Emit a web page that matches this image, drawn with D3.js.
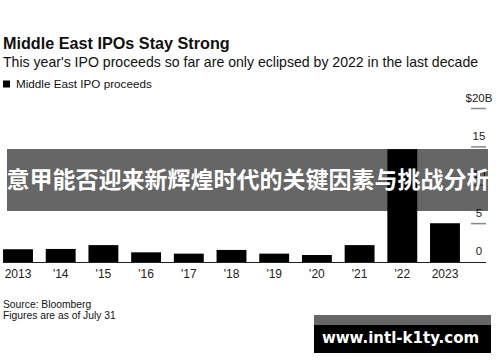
<!DOCTYPE html>
<html><head><meta charset="utf-8">
<script src="https://cdn.jsdelivr.net/npm/d3@7"></script>
<style>
html,body{margin:0;padding:0;background:#fff;}
svg{display:block;font-family:"Liberation Sans",Arial,sans-serif;}
</style></head>
<body>
<svg id="c" width="500" height="362"></svg>
<script>
const years = ["2013","'14","'15","'16","'17","'18","'19","'20","'21","'22","2023"];
const proceeds = [1.66, 1.7, 2.2, 1.26, 1.09, 1.57, 1.09, 0.91, 2.2, 14.7, 5.05];
const yTicks = [0, 5, 10, 15, 20];
const yTickLabels = ["0", "5", "10", "15", "$20B"];
const title = "Middle East IPOs Stay Strong";
const subtitle = "This year's IPO proceeds so far are only eclipsed by 2022 in the last decade";
const legendLabel = "Middle East IPO proceeds";
const notes = ["Source: Bloomberg", "Figures are as of July 31"];
const banner = "意甲能否迎来新辉煌时代的关键因素与挑战分析";
const watermark = "www.intl-k1ty.com";

const svg = d3.select("#c");
const x = d3.scaleBand().domain(years).range([-3.35, 466.35]).paddingInner(0.3).paddingOuter(0.15);
const y = d3.scaleLinear().domain([0, 20]).range([262, 108.5]);

svg.append("text").attr("x", 3).attr("y", 49).attr("font-size", 16.2).attr("font-weight", "bold").attr("fill", "#111").text(title);
svg.append("text").attr("x", 3).attr("y", 67).attr("font-size", 14.1).attr("fill", "#111").text(subtitle);
svg.append("rect").attr("x", 3).attr("y", 80.5).attr("width", 7).attr("height", 7).attr("fill", "#000");
svg.append("text").attr("x", 16).attr("y", 88).attr("font-size", 11.7).attr("fill", "#111").text(legendLabel);

// bars
svg.append("g").selectAll("rect").data(years).join("rect")
  .attr("x", d => x(d)).attr("width", x.bandwidth())
  .attr("y", (d, i) => y(proceeds[i])).attr("height", (d, i) => y(0) - y(proceeds[i]))
  .attr("fill", "#000");

// baseline
svg.append("line").attr("x1", 3).attr("x2", 486).attr("y1", y(0) + 0.5).attr("y2", y(0) + 0.5).attr("stroke", "#222").attr("stroke-width", 1);

// y axis: short tick lines with labels above
const yg = svg.append("g");
yTicks.forEach((t, i) => {
  if (t > 0) yg.append("line").attr("x1", 471).attr("x2", 486).attr("y1", y(t)).attr("y2", y(t)).attr("stroke", "#888").attr("stroke-width", 1.5);
  yg.append("text").attr("x", 479).attr("y", y(t) - 7).attr("text-anchor", "middle").attr("font-size", 11.5).attr("fill", "#222").text(yTickLabels[i]);
});

// x axis labels
const xAxis = d3.axisBottom(x).tickSize(0).tickPadding(0);
const xg = svg.append("g").attr("transform", `translate(0,${y(0)})`).call(xAxis);
xg.select(".domain").remove();
xg.selectAll("text").attr("font-size", 12).attr("font-family", "Liberation Sans, Arial, sans-serif").attr("fill", "#222").attr("dy", 0).attr("y", 16);

svg.append("text").attr("x", 3).attr("y", 308).attr("font-size", 10.3).attr("fill", "#111").text(notes[0]);
svg.append("text").attr("x", 3).attr("y", 319).attr("font-size", 10.3).attr("fill", "#111").text(notes[1]);

// banner overlay
svg.append("rect").attr("x", 7).attr("y", 149).attr("width", 481).attr("height", 62).attr("fill", "#000").attr("fill-opacity", 0.6);
svg.append("text").attr("x", 248).attr("y", 188).attr("text-anchor", "middle")
  .attr("font-family", "Noto Sans CJK SC").attr("font-weight", "bold").attr("font-size", 23).attr("fill", "#fff").text(banner);

// watermark
svg.append("rect").attr("x", 314).attr("y", 315).attr("width", 177).attr("height", 10).attr("fill", "#000").attr("fill-opacity", 0.6);
svg.append("rect").attr("x", 314).attr("y", 325).attr("width", 177).attr("height", 28).attr("fill", "#000");
svg.append("text").attr("x", 400.5).attr("y", 343).attr("text-anchor", "middle").attr("font-weight", "bold").attr("font-size", 15)
  .attr("font-family", "DejaVu Sans, sans-serif").attr("fill", "#fff").text(watermark);
</script>
</body></html>
